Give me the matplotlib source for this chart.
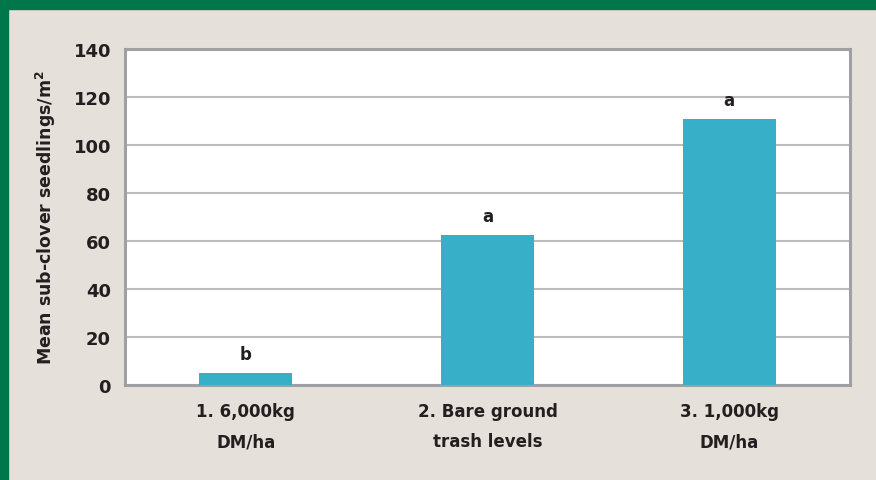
#!/usr/bin/env python3
"""Sub-clover seedling counts by trash level."""

import matplotlib

matplotlib.use("Agg")
import matplotlib.pyplot as plt
from matplotlib.patches import Rectangle
import numpy as np

CATEGORIES = ["1. 6,000kg\nDM/ha", "2. Bare ground\ntrash levels", "3. 1,000kg\nDM/ha"]
SEEDLINGS = [5, 62.5, 111]
LETTERS = ["b", "a", "a"]
Y_TICKS = [0, 20, 40, 60, 80, 100, 120, 140]

BG = "#E6E0DA"
GREEN = "#00774A"
BAR = "#38AFC8"
TEXT = "#231F20"


def main():
  plt.rcParams["font.family"] = ["DejaVu Sans"]
  fig = plt.figure(figsize=(8.76, 4.81), dpi=100, facecolor=BG)
  # green frame on the top and left edges
  fig.patches.append(Rectangle((0, 1 - 10 / 481), 1, 10 / 481,
                               transform=fig.transFigure, color=GREEN, zorder=0))
  fig.patches.append(Rectangle((0, 0), 8 / 876, 1,
                               transform=fig.transFigure, color=GREEN, zorder=0))

  ax = fig.add_axes([125 / 876, 1 - 386 / 481, 725 / 876, 336 / 481])
  ax.set_facecolor("white")
  x = np.arange(len(CATEGORIES))
  ax.bar(x, SEEDLINGS, width=0.385, color=BAR, zorder=3)
  for xi, val, letter in zip(x, SEEDLINGS, LETTERS):
    ax.annotate(letter, (xi, val), xytext=(0, 7), textcoords="offset points",
                ha="center", va="bottom", fontsize=12, fontweight="bold",
                color=TEXT)

  ax.set_xlim(-0.5, 2.5)
  ax.set_ylim(0, 140)
  ax.set_yticks(Y_TICKS)
  ax.set_xticks(x)
  ax.set_xticklabels(CATEGORIES, fontsize=12, fontweight="bold", color=TEXT,
                     linespacing=1.9)
  for lab in ax.get_yticklabels():
    lab.set_fontsize(13)
    lab.set_fontweight("bold")
    lab.set_color(TEXT)
  ax.tick_params(axis="both", length=0)
  ax.tick_params(axis="x", pad=12)
  ax.tick_params(axis="y", pad=10)
  ax.grid(axis="y", color="#BCBCBC", linewidth=1.5, zorder=1)
  for spine in ax.spines.values():
    spine.set_color("#A0A0A4")
    spine.set_linewidth(2.2)
  ax.set_ylabel("Mean sub-clover seedlings/m$^\\mathbf{2}$", fontsize=12.5,
                fontweight="bold", color=TEXT, labelpad=11)

  fig.savefig("out.png", dpi=100, facecolor=BG)
  plt.close(fig)


if __name__ == "__main__":
  main()
